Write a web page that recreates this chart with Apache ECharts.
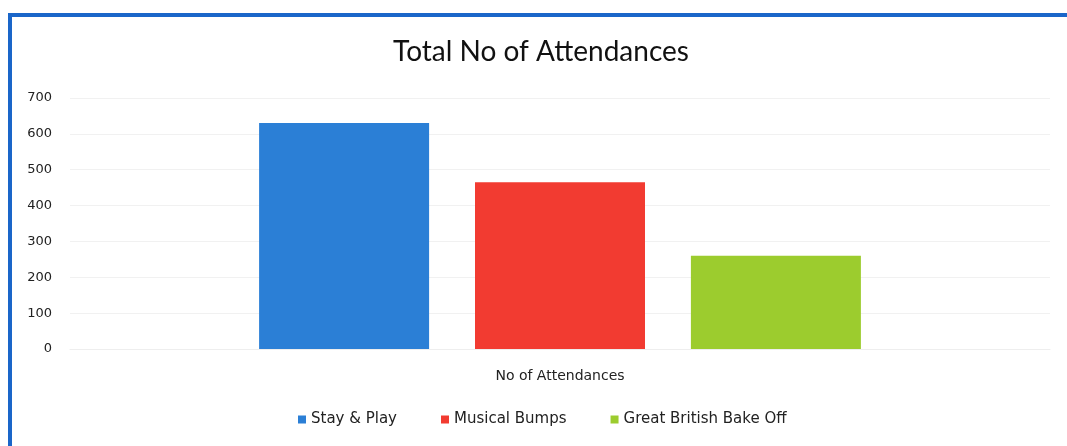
<!DOCTYPE html>
<html>
<head>
<meta charset="utf-8">
<title>Total No of Attendances</title>
<script src="https://cdn.jsdelivr.net/npm/echarts@6/dist/echarts.min.js"></script>
<style>
  html, body {
    margin: 0;
    padding: 0;
    background: #fff;
  }
  .frame {
    position: absolute;
    left: 8px;
    top: 13px;
    width: 1059px;
    height: 433px;
    border-top: 4px solid #1a66c9;
    border-left: 4px solid #1a66c9;
    box-sizing: border-box;
  }
  #chart {
    position: absolute;
    left: 0;
    top: 0;
    width: 1067px;
    height: 446px;
  }
</style>
</head>
<body>
<div class="frame"></div>
<div id="chart"></div>
<script>
// data
const categories = ["No of Attendances"];
const seriesNames = ["Stay & Play", "Musical Bumps", "Great British Bake Off"];
const stayPlay = [630];
const musicalBumps = [465];
const bakeOff = [260];
const yTicks = [0, 100, 200, 300, 400, 500, 600, 700];

const colors = ["#2b7fd6", "#f23b31", "#9ccc2e"];
const titleFont = "Lato, 'Open Sans', sans-serif";
const font = "'DejaVu Sans', sans-serif";

const chart = echarts.init(document.getElementById("chart"));

chart.setOption({
  animation: false,
  title: {
    text: "Total No of Attendances",
    left: 536,
    textAlign: "center",
    top: 33,
    textStyle: { fontFamily: titleFont, fontSize: 28, fontWeight: "normal", color: "#111" },
  },
  legend: {
    bottom: 14,
    left: 293,
    itemWidth: 8,
    itemHeight: 8,
    itemGap: 44,
    icon: "rect",
    textStyle: { fontFamily: font, fontSize: 15, color: "#222" },
  },
  grid: {
    left: 70,
    right: 17,
    top: 98,
    height: 251,
  },
  xAxis: {
    type: "category",
    data: categories,
    axisLine: { show: true, lineStyle: { color: "#eeeeee" } },
    axisTick: { show: false },
    axisLabel: { fontFamily: font, fontSize: 14, color: "#222", margin: 20 },
  },
  yAxis: {
    type: "value",
    min: yTicks[0],
    max: yTicks[yTicks.length - 1],
    interval: 100,
    axisLine: { show: false },
    axisTick: { show: false },
    axisLabel: { fontFamily: font, fontSize: 13, color: "#222", margin: 18 },
    splitLine: { lineStyle: { color: "#f1f1f1" } },
  },
  series: [
    { name: seriesNames[0], type: "bar", data: stayPlay, barWidth: 170, barGap: "27%", itemStyle: { color: colors[0] } },
    { name: seriesNames[1], type: "bar", data: musicalBumps, barWidth: 170, barGap: "27%", itemStyle: { color: colors[1] } },
    { name: seriesNames[2], type: "bar", data: bakeOff, barWidth: 170, barGap: "27%", itemStyle: { color: colors[2] } },
  ],
});
</script>
</body>
</html>
